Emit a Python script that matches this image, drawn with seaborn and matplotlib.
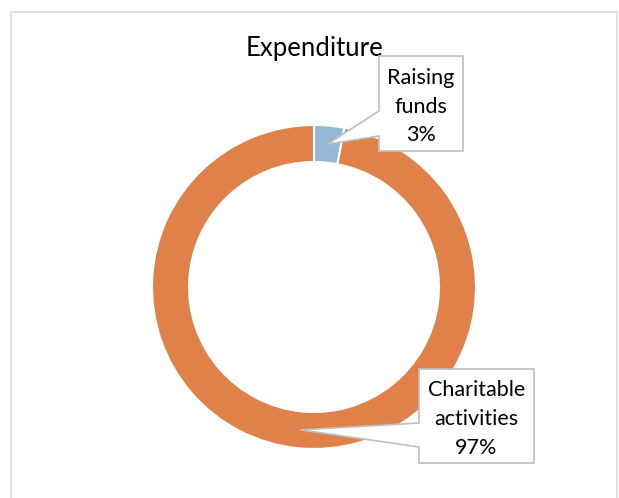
import numpy as np
import matplotlib.pyplot as plt
import seaborn as sns
from matplotlib.patches import Polygon, Rectangle

# Data
categories = ["Raising funds", "Charitable activities"]
values = [3, 97]
label_lines = ["Raising\nfunds\n3%", "Charitable\nactivities\n97%"]
title = "Expenditure"

colors = ["#94B7D6", "#DF8149"]

W, H = 619, 498


def py(y):
    # pixel row (from top) to data y
    return H - y


def main():
    sns.set_theme(style="white")
    plt.rcParams['font.family'] = ['Lato', 'DejaVu Sans']

    fig = plt.figure(figsize=(W / 100, H / 100), dpi=100)
    ax = fig.add_axes([0, 0, 1, 1])

    cx, cy, r_out, ring = 314, py(287), 162, 37
    wedges, _ = ax.pie(values, colors=colors, startangle=90, counterclock=False,
                       radius=r_out, center=(cx, cy),
                       wedgeprops=dict(width=ring, edgecolor="white", linewidth=1.5))
    ax.set_xlim(0, W)
    ax.set_ylim(0, H)
    ax.set_aspect("equal")
    ax.axis("off")

    # outer chart frame
    ax.add_patch(Rectangle((11, -10), 606, H - 12 + 10, fill=False,
                           edgecolor="#D9D9D9", linewidth=1.2, clip_on=False))

    ax.text(cx, py(56), title, ha="center", va="baseline", fontsize=18.5, color="black")

    # callouts: box (left, top, right, bottom) and pointer base on left edge
    boxes = [(379, 56, 463, 151), (419, 369, 534, 463)]
    bases = [(111, 136), (423, 447)]
    total = sum(values)
    cum = 0
    r_mid = r_out - ring / 2
    for i, v in enumerate(values):
        mid = 90 - (cum + v / 2) / total * 360
        cum += v
        tx = cx + r_mid * np.cos(np.radians(mid))
        ty = cy + r_mid * np.sin(np.radians(mid))
        l, t, rr, b = boxes[i]
        b1, b2 = bases[i]
        verts = [(l, py(t)), (rr, py(t)), (rr, py(b)), (l, py(b)),
                 (l, py(b2)), (tx, ty), (l, py(b1))]
        ax.add_patch(Polygon(verts, closed=True, facecolor="white",
                             edgecolor="#BFBFBF", linewidth=1.2, zorder=5))
        ax.text((l + rr) / 2, py((t + b) / 2 + 3), label_lines[i], ha="center", va="center",
                fontsize=15.5, linespacing=1.56, color="black", zorder=6)

    fig.savefig("out.png", dpi=100)
    plt.close(fig)


if __name__ == '__main__':
    main()
